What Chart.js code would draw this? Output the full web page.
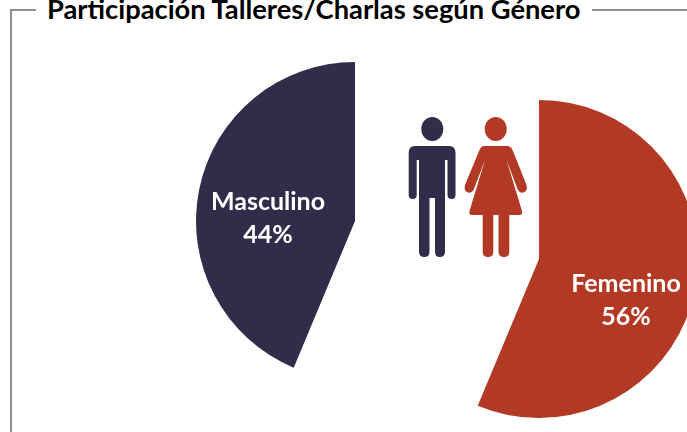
<!DOCTYPE html>
<html lang="es">
<head>
<meta charset="utf-8">
<title>Participación Talleres/Charlas según Género</title>
<script src="https://cdn.jsdelivr.net/npm/chart.js@4/dist/chart.umd.min.js"></script>
<style>
    html, body { margin: 0; padding: 0; background: #fff; }
    #page { position: relative; width: 687px; height: 432px; overflow: hidden; background: #fff; font-family: Lato, sans-serif; }
    #page canvas { position: absolute; }
    #chartMasculino { left: 196px; top: 62px; }
    #chartFemenino { left: 380px; top: 100px; }
    .frame { position: absolute; background: #8f8f8f; }
    #title { position: absolute; left: 47px; top: -8px; font-size: 27.3px; font-weight: 700; color: #000; white-space: nowrap; }
    #icons { position: absolute; left: 400px; top: 110px; }
</style>
</head>
<body>
<div id="page">
    <div class="frame" style="left:10px;top:9px;width:2px;height:423px"></div>
    <div class="frame" style="left:10px;top:9px;width:26px;height:2px"></div>
    <div class="frame" style="left:592px;top:9px;width:95px;height:2px"></div>
    <div id="title">Participación Talleres/Charlas según Género</div>

    <canvas id="chartMasculino" width="318" height="318"></canvas>
    <canvas id="chartFemenino" width="318" height="318"></canvas>

    <!-- iconos hombre / mujer -->
    <svg id="icons" width="130" height="155" viewBox="400 110 130 155">
        <g fill="#312c4a">
            <ellipse cx="432.3" cy="129" rx="11" ry="12"/>
            <path d="M415 146 H449 Q455.5 146 455.5 153 V195 Q455.5 199 451.5 199 Q447.5 199 447.5 195 V160 H445 V252 Q445 257 439.5 257 Q435 257 435 252 V198 H429.5 V252 Q429.5 257 424.5 257 Q419 257 419 252 V160 H416.7 V195 Q416.7 199 412.7 199 Q408.7 199 408.7 195 V153 Q408.7 146 415 146 Z"/>
        </g>
        <g fill="#b23a25">
            <ellipse cx="495.7" cy="129" rx="11" ry="12"/>
            <path d="M484 146 H507 Q511 146 513 151 L526.5 185 Q528 191 523.5 192.5 Q519.5 193.5 517.5 189 L506.5 160 L522 211 Q523 215 519 215 H509.3 V252 Q509.3 257 504 257 Q498.5 257 498.5 252 V215 H493.3 V252 Q493.3 257 488 257 Q482.7 257 482.7 252 V215 H472 Q468.5 215 469.5 211 L485 160 L474 189 Q472 193.5 468 192.5 Q463.5 191 465 185 L479 151 Q481 146 484 146 Z"/>
        </g>
    </svg>
</div>

<script>
// datos del gráfico
const categories = ['Masculino', 'Femenino'];
const percentages = [43.7, 56.3];
const sliceColors = ['#312c4a', '#b23a25'];

// etiqueta blanca sobre cada porción
const sliceLabels = {
    id: 'sliceLabels',
    afterDatasetsDraw(chart, args, opts) {
        const ctx = chart.ctx;
        const arc = chart.getDatasetMeta(0).data[0];
        ctx.save();
        ctx.fillStyle = '#ffffff';
        ctx.font = '700 25px Lato, sans-serif';
        ctx.textAlign = 'center';
        ctx.textBaseline = 'middle';
        ctx.fillText(opts.name, arc.x + opts.dx, arc.y + opts.dy);
        ctx.fillText(Math.round(opts.value) + '%', arc.x + opts.dx, arc.y + opts.dy + 33);
        ctx.restore();
    }
};

// cada porción va en su propio canvas, el resto del círculo queda transparente
function drawSlice(canvasId, index, rotation, dx, dy) {
    const value = percentages[index];
    new Chart(document.getElementById(canvasId), {
        type: 'pie',
        plugins: [sliceLabels],
        data: {
            labels: [categories[index], ''],
            datasets: [{
                data: [value, 100 - value],
                backgroundColor: [sliceColors[index], 'rgba(0,0,0,0)'],
                borderWidth: 0,
                hoverOffset: 0
            }]
        },
        options: {
            responsive: false,
            animation: false,
            rotation: rotation,
            layout: { padding: 0 },
            events: [],
            plugins: {
                legend: { display: false },
                tooltip: { enabled: false },
                sliceLabels: { name: categories[index], value: value, dx: dx, dy: dy }
            }
        }
    });
}

drawSlice('chartMasculino', 0, -percentages[0] * 3.6, -87, -19);
drawSlice('chartFemenino', 1, 0, 87, 25);
</script>
</body>
</html>
